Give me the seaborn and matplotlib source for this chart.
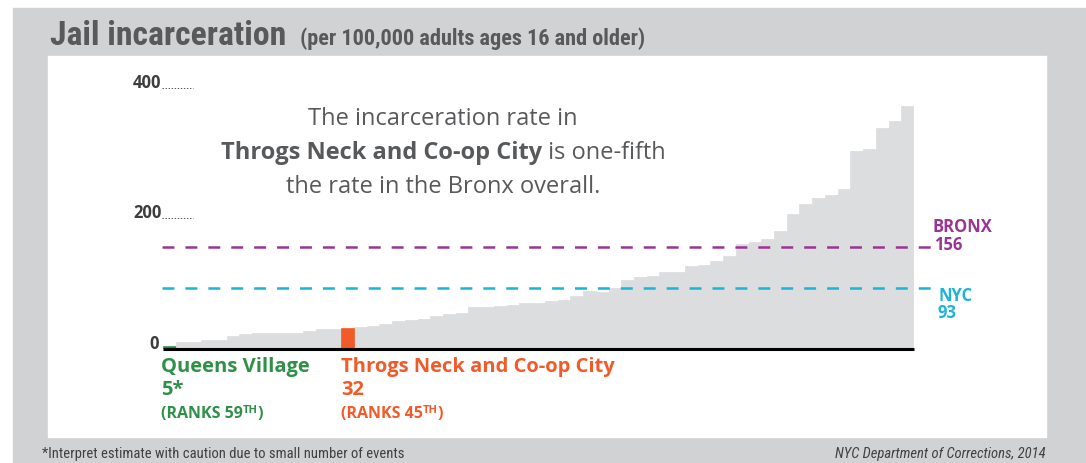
import matplotlib
matplotlib.use('Agg')
import matplotlib.pyplot as plt
from matplotlib.patches import Rectangle
from matplotlib.transforms import Affine2D
from matplotlib import font_manager
import seaborn as sns
import pandas as pd

## community district jail incarceration rates, sorted low -> high
rates = [5, 11, 11, 14, 14, 19, 22, 23.5, 25, 25,
         25, 28, 30, 31, 32, 33, 35, 38, 42, 44,
         45, 51, 53, 54.5, 64, 64, 65, 67, 70, 70,
         73, 75, 81, 88, 87, 93, 106, 110, 112, 118,
         118, 127, 129, 135, 143, 160, 164, 169, 181, 207,
         222, 231, 236, 245, 303, 307, 338, 350, 373]
groups = ['other'] * len(rates)
groups[0] = 'queens'
groups[14] = 'throgs'

bronx_rate = 156
nyc_rate = 93
y_ticks = [0, 200, 400]

W, H = 1086, 463
GREY_BG = '#d1d2d4'
BAR = '#dcdddf'
GREEN = '#2e9147'
ORANGE = '#f15a29'
PURPLE = '#9b3594'
CYAN = '#1cb5d3'
TXT = '#58595b'

sns.set_style('white')
plt.rcParams['font.family'] = ['Open Sans', 'DejaVu Sans']
plt.rcParams['lines.scale_dashes'] = False

# condensed face for title / footer if there is one
names = {f.name for f in font_manager.fontManager.ttflist}
COND = dict(family=['DejaVu Sans'], fontstretch='condensed')
for nm in ['Liberation Sans Narrow', 'Roboto Condensed', 'Open Sans Condensed']:
    if nm in names:
        COND = dict(family=[nm, 'DejaVu Sans'])
        break

fig = plt.figure(figsize=(W / 100, H / 100), dpi=100)
fig.patch.set_facecolor('white')
# pixel coords from the top-left corner
PX = Affine2D().scale(1 / W, -1 / H).translate(0, 1) + fig.transFigure

fig.add_artist(Rectangle((13, 8), 1072, 455, transform=PX, color=GREY_BG, zorder=0))
fig.add_artist(Rectangle((48, 56), 998, 381, transform=PX, color='white', zorder=0))

ax = fig.add_axes([163 / W, 1 - 348.8 / H, (914 - 163) / W, (348.8 - 88) / H])
ax.patch.set_alpha(0)

df = pd.DataFrame({'pos': range(len(rates)), 'rate': rates, 'grp': groups})
sns.barplot(data=df, x='pos', y='rate', hue='grp', dodge=False, width=1,
            palette={'other': BAR, 'queens': GREEN, 'throgs': ORANGE},
            saturation=1, legend=False, ax=ax)
for p in ax.patches:
    p.set_edgecolor(p.get_facecolor())
    p.set_linewidth(0.5)

ax.set_xlim(-0.5, len(rates) - 0.5)
ax.set_ylim(0, 400)
ax.axis('off')

# baseline
ax.plot([-0.5, len(rates) - 0.5], [0, 0], color='black', lw=2.2, clip_on=False,
        solid_capstyle='butt', zorder=5)

# reference lines
for val, col in [(bronx_rate, PURPLE), (nyc_rate, CYAN)]:
    ax.plot([-0.55, 59.9], [val, val], color=col, lw=1.8, dashes=(8.6, 7.9),
            clip_on=False, zorder=4)

# y labels with dotted leaders
for v in y_ticks:
    if v == 0:
        ax.text(-0.85, 0, '0', ha='right', va='baseline', fontsize=12,
                fontweight='bold', color='#3d3d3f')
    else:
        ax.text(-0.6, v, str(v), ha='right', va='baseline', fontsize=12,
                fontweight='bold', color='#3d3d3f')
        ax.plot([-0.6, 1.85], [v, v], color='#555555', lw=0.7, ls=(0, (1, 1.2)),
                clip_on=False)


def put(x, y, s, **kw):
    return fig.text(x, y, s, transform=PX, va='baseline', **kw)


def chain(x, y, pieces, center=False):
    r = fig.canvas.get_renderer()
    ts, ws = [], []
    for s, kw in pieces:
        kw = dict(kw)
        dy = kw.pop('dy', 0)
        t = put(0, y - dy, s, ha='left', **kw)
        ts.append(t)
        ws.append(t.get_window_extent(r).width)
    cur = x - sum(ws) / 2 if center else x
    for t, w in zip(ts, ws):
        t.set_x(cur)
        cur += w
    return ts


# title
put(50, 45, 'Jail incarceration', fontsize=24.3, fontweight='bold', color=TXT, **COND)
put(300, 45, '(per 100,000 adults ages 16 and older)', fontsize=16, fontweight='bold',
    color=TXT, **COND)

# annotation
ann = dict(fontsize=17, color=TXT)
chain(443, 125, [('The incarceration rate in', ann)], center=True)
chain(443, 159, [('Throgs Neck and Co-op City', dict(ann, fontweight='bold')),
                 (' is one-fifth', ann)], center=True)
chain(443, 193, [('the rate in the Bronx overall.', ann)], center=True)

# highlighted districts
for x0, name, val, rank, col in [(161, 'Queens Village', '5*', '59', GREEN),
                                 (341, 'Throgs Neck and Co-op City', '32', '45', ORANGE)]:
    put(x0, 372, name, fontsize=14.5, fontweight='bold', color=col)
    put(x0, 395, val, fontsize=14.5, fontweight='bold', color=col)
    small = dict(fontsize=11.5, fontweight='bold', color=col)
    chain(x0, 418, [('(RANKS ' + rank, small), ('TH', dict(small, fontsize=8, dy=5)),
                    (')', small)])

# right labels
put(933, 232, 'BRONX', fontsize=12, fontweight='bold', color=PURPLE)
put(934, 250, str(bronx_rate), fontsize=12, fontweight='bold', color=PURPLE)
put(938, 301, 'NYC', fontsize=12, fontweight='bold', color=CYAN)
put(938, 318, str(nyc_rate), fontsize=12, fontweight='bold', color=CYAN)

# footer
put(42, 458, '*Interpret estimate with caution due to small number of events',
    fontsize=10.5, color='#414042', **COND)
put(1046, 458, 'NYC Department of Corrections, 2014', fontsize=10.5, style='italic',
    color='#414042', ha='right', **COND)

fig.savefig('out.png', dpi=100)
